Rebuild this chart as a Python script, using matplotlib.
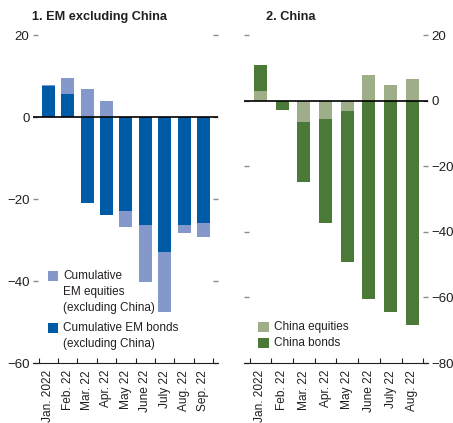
import matplotlib
matplotlib.use("Agg")
import matplotlib.pyplot as plt
from matplotlib.patches import Rectangle
import numpy as np

plt.rcParams['font.family'] = ['Liberation Sans', 'DejaVu Sans']

em_months = ["Jan. 2022", "Feb. 22", "Mar. 22", "Apr. 22", "May 22", "June 22", "July 22", "Aug. 22", "Sep. 22"]
em_bonds = [7.6, 5.7, -20.9, -23.9, -23.0, -26.2, -32.8, -26.2, -25.9]
em_equities = [0.3, 3.9, 6.9, 4.0, -3.8, -14.1, -14.8, -2.1, -3.4]

cn_months = ["Jan. 2022", "Feb. 22", "Mar. 22", "Apr. 22", "May 22", "June 22", "July 22", "Aug. 22"]
cn_equities = [3.1, 0.0, -6.6, -5.6, -3.2, 7.9, 4.8, 6.7]
cn_bonds = [7.9, -2.8, -18.3, -31.6, -46.1, -60.4, -64.3, -68.3]

em_legend = [["Cumulative", "EM equities", "(excluding China)"],
             ["Cumulative EM bonds", "(excluding China)"]]
cn_legend = [["China equities"], ["China bonds"]]

EM_DARK = "#005BA6"
EM_LIGHT = "#8498CB"
CN_DARK = "#4B7A38"
CN_LIGHT = "#9DAE89"
TXT = "#231F20"
TICK = "#8C8C8C"

fig = plt.figure(figsize=(4.53, 4.23), dpi=100)
W, H = 453, 423

def fx(px):
    return px / W

def fy(py):
    return 1 - py / H

def axes_px(x0, x1, ytop, ybot):
    return fig.add_axes([x0 / W, 1 - ybot / H, (x1 - x0) / W, (ybot - ytop) / H])

ax1 = axes_px(33, 218, 30, 363)
ax2 = axes_px(244, 428, 30, 363)

def stack(vals_first, vals_second):
    a = np.array(vals_first, float)
    b = np.array(vals_second, float)
    base = np.where(np.sign(a) == np.sign(b), a, 0.0)
    return a, b, base

x1 = np.arange(len(em_months))
a, b, base = stack(em_bonds, em_equities)
ax1.bar(x1, a, width=0.67, color=EM_DARK, linewidth=0, zorder=2)
ax1.bar(x1, b, bottom=base, width=0.67, color=EM_LIGHT, linewidth=0, zorder=2)
ax1.set_xlim(-0.79, 8.75)
ax1.set_ylim(-60, 21.3)
ax1.set_yticks([20, 0, -20, -40, -60])
ax1.set_yticklabels(["20", "0", "\u221220", "\u221240", "\u221260"])

x2 = np.arange(len(cn_months))
a2, b2, base2 = stack(cn_equities, cn_bonds)
ax2.bar(x2, a2, width=0.6, color=CN_LIGHT, linewidth=0, zorder=2)
ax2.bar(x2, b2, bottom=base2, width=0.6, color=CN_DARK, linewidth=0, zorder=2)
ax2.set_xlim(-0.76, 7.72)
ax2.set_ylim(-80, 21.6)
ax2.set_yticks([20, 0, -20, -40, -60, -80])
ax2.set_yticklabels(["20", "0", "\u221220", "\u221240", "\u221260", "\u221280"])

for ax, months in ((ax1, em_months), (ax2, cn_months)):
    for s in ("top", "left", "right"):
        ax.spines[s].set_visible(False)
    ax.spines["bottom"].set_color(TXT)
    ax.spines["bottom"].set_linewidth(0.8)
    ax.axhline(0, color="black", lw=1.2, zorder=3)
    n = len(months)
    ax.set_xticks(np.arange(n))
    ax.set_xticklabels(months, rotation=90, fontsize=8.6, color=TXT)
    ax.set_xticks(np.arange(n + 1) - 0.5, minor=True)
    ax.tick_params(axis="x", which="major", length=0, pad=5)
    ax.tick_params(axis="x", which="minor", length=3.5, direction="in", color=TXT, width=0.8)
    ax.tick_params(axis="y", direction="in", length=3.5, color=TICK, width=1.0,
                   labelsize=9.5, labelcolor=TXT, left=True, right=True, pad=2.5)

ax1.tick_params(axis="y", labelleft=True, labelright=False)
ax2.tick_params(axis="y", labelleft=False, labelright=True)

fig.text(fx(32), fy(17), "1. EM excluding China", fontsize=9.2, fontweight="bold",
         color=TXT, va="center", ha="left")
fig.text(fx(266), fy(17), "2. China", fontsize=9.2, fontweight="bold",
         color=TXT, va="center", ha="left")

def legend_entry(x_sq, y_sq, color, lines, x_txt, line_step=16, fs=8.5):
    fig.patches.append(Rectangle((fx(x_sq), fy(y_sq + 10.5)), 10.5 / W, 10.5 / H,
                                 transform=fig.transFigure, facecolor=color,
                                 edgecolor="none", figure=fig))
    for i, ln in enumerate(lines):
        fig.text(fx(x_txt), fy(y_sq + 5.5 + i * line_step), ln, fontsize=fs,
                 color=TXT, va="center", ha="left")

legend_entry(47.7, 270.5, EM_LIGHT, em_legend[0], 63)
legend_entry(47.7, 322.5, EM_DARK, em_legend[1], 63)
legend_entry(258, 321.5, CN_LIGHT, cn_legend[0], 273.5)
legend_entry(258, 337.5, CN_DARK, cn_legend[1], 273.5)

fig.savefig("out.png", dpi=100)
